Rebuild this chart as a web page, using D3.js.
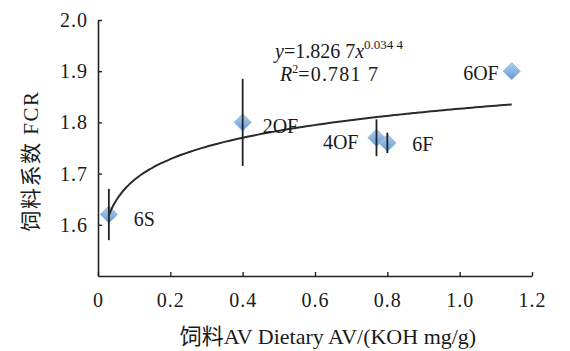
<!DOCTYPE html>
<html lang="zh">
<head>
<meta charset="UTF-8">
<title>FCR vs AV</title>
<script src="https://cdn.jsdelivr.net/npm/d3@7/dist/d3.min.js"></script>
<style>
	body { margin: 0; background: #fff; }
	text { font-family: "Liberation Serif", "Times New Roman", "DejaVu Serif", "Noto Sans CJK SC", serif; fill: #1a1a1a; }
</style>
</head>
<body>
<script>
	// data
	var groups = ['6S', '2OF', '4OF', '6F', '6OF'];
	var av = [0.03, 0.40, 0.77, 0.80, 1.144];
	var fcr = [1.62, 1.80, 1.77, 1.76, 1.90];
	var sd = [0.05, 0.085, 0.036, 0.02, 0];
	var xTicks = [0, 0.2, 0.4, 0.6, 0.8, 1.0, 1.2];
	var yTicks = [1.6, 1.7, 1.8, 1.9, 2.0];
	// power trendline shown on the chart: y = a x^b
	var fitA = 1.8267, fitB = 0.0344;

	var width = 570, height = 351;
	var padding = { top: 20, left: 98, right: 38, bottom: 75 };
	var serif = '"Liberation Serif", "Times New Roman", "DejaVu Serif", "Noto Sans CJK SC", serif';

	var svg = d3.select('body').append('svg')
		.attr('width', width)
		.attr('height', height);

	var xScale = d3.scaleLinear()
		.domain([0, 1.2])
		.range([padding.left, width - padding.right]);
	var yScale = d3.scaleLinear()
		.domain([1.5, 2.0])
		.range([height - padding.bottom, padding.top]);

	var grad = svg.append('defs').append('linearGradient')
		.attr('id', 'dia')
		.attr('x1', 0).attr('y1', 0).attr('x2', 0).attr('y2', 1);
	grad.append('stop').attr('offset', '0%').attr('stop-color', '#b3d0ee');
	grad.append('stop').attr('offset', '100%').attr('stop-color', '#5f9ad6');

	// axes
	var xAxis = d3.axisBottom(xScale)
		.tickValues(xTicks)
		.tickSize(-4)
		.tickSizeOuter(0)
		.tickPadding(17)
		.tickFormat(d => d === 0 ? '0' : d3.format('.1f')(d));
	var yAxis = d3.axisLeft(yScale)
		.tickValues(yTicks)
		.tickSize(-4)
		.tickSizeOuter(0)
		.tickPadding(10)
		.tickFormat(d3.format('.1f'));

	var gx = svg.append('g')
		.attr('transform', `translate(0,${yScale(1.5)})`)
		.call(xAxis);
	var gy = svg.append('g')
		.attr('transform', `translate(${xScale(0)},0)`)
		.call(yAxis);

	[gx, gy].forEach(function (g) {
		g.attr('font-family', serif);
		g.select('.domain').attr('stroke', '#222').attr('stroke-width', 1.6);
		g.selectAll('.tick line').attr('stroke', '#222').attr('stroke-width', 1.4);
		g.selectAll('.tick text')
			.style('font-size', '20px')
			.style('letter-spacing', '1px')
			.attr('fill', '#1a1a1a');
	});

	// markers
	svg.selectAll('path.dia')
		.data(groups)
		.enter().append('path')
		.attr('class', 'dia')
		.attr('d', 'M0,-8.5L8.5,0L0,8.5L-8.5,0Z')
		.attr('transform', (d, i) => `translate(${xScale(av[i])},${yScale(fcr[i])})`)
		.attr('fill', 'url(#dia)')
		.attr('stroke', '#8fb5de')
		.attr('stroke-width', 1);

	// error bars drawn over the markers
	svg.selectAll('line.err')
		.data(groups.filter((d, i) => sd[i] > 0))
		.enter().append('line')
		.attr('class', 'err')
		.attr('x1', d => xScale(av[groups.indexOf(d)]))
		.attr('x2', d => xScale(av[groups.indexOf(d)]))
		.attr('y1', d => yScale(fcr[groups.indexOf(d)] + sd[groups.indexOf(d)]))
		.attr('y2', d => yScale(fcr[groups.indexOf(d)] - sd[groups.indexOf(d)]))
		.attr('stroke', '#222')
		.attr('stroke-width', 1.8);

	// trendline
	var xs = d3.range(0, 101).map(k => av[0] + (av[4] - av[0]) * k / 100);
	var line = d3.line()
		.x(d => xScale(d))
		.y(d => yScale(fitA * Math.pow(d, fitB)))
		.curve(d3.curveBasis);
	svg.append('path')
		.datum(xs)
		.attr('d', line)
		.attr('fill', 'none')
		.attr('stroke', '#2a2a2a')
		.attr('stroke-width', 2);

	// point labels
	var labelPos = [
		{ dx: 25, dy: 11, anchor: 'start' },
		{ dx: 20, dy: 11, anchor: 'start' },
		{ dx: -18, dy: 11, anchor: 'end' },
		{ dx: 25, dy: 8, anchor: 'start' },
		{ dx: -13, dy: 9, anchor: 'end' }
	];
	svg.selectAll('text.lab')
		.data(groups)
		.enter().append('text')
		.attr('class', 'lab')
		.attr('x', (d, i) => xScale(av[i]) + labelPos[i].dx)
		.attr('y', (d, i) => yScale(fcr[i]) + labelPos[i].dy)
		.attr('text-anchor', (d, i) => labelPos[i].anchor)
		.style('font-size', '20px')
		.text(d => d);

	// equation
	var eq = svg.append('text').attr('x', 275).attr('y', 58).style('font-size', '20px');
	eq.append('tspan').style('font-style', 'italic').text('y');
	eq.append('tspan').text('=1.826 7');
	eq.append('tspan').style('font-style', 'italic').text('x');
	eq.append('tspan').attr('dy', -9).style('font-size', '13px').text('0.034 4');

	var r2 = svg.append('text').attr('x', 280).attr('y', 81).style('font-size', '20px');
	r2.append('tspan').style('font-style', 'italic').text('R');
	r2.append('tspan').attr('dy', -8).style('font-size', '12px').text('2');
	r2.append('tspan').attr('dy', 8).style('letter-spacing', '1.2px').text('=0.781 7');

	// axis titles
	svg.append('text')
		.attr('x', 328)
		.attr('y', 344)
		.attr('text-anchor', 'middle')
		.style('font-size', '22px')
		.text('饲料AV Dietary AV/(KOH mg/g)');

	svg.append('text')
		.attr('transform', 'translate(38,161) rotate(-90)')
		.attr('text-anchor', 'middle')
		.style('font-size', '21px')
		.style('letter-spacing', '1.5px')
		.text('饲料系数 FCR');
</script>
</body>
</html>
